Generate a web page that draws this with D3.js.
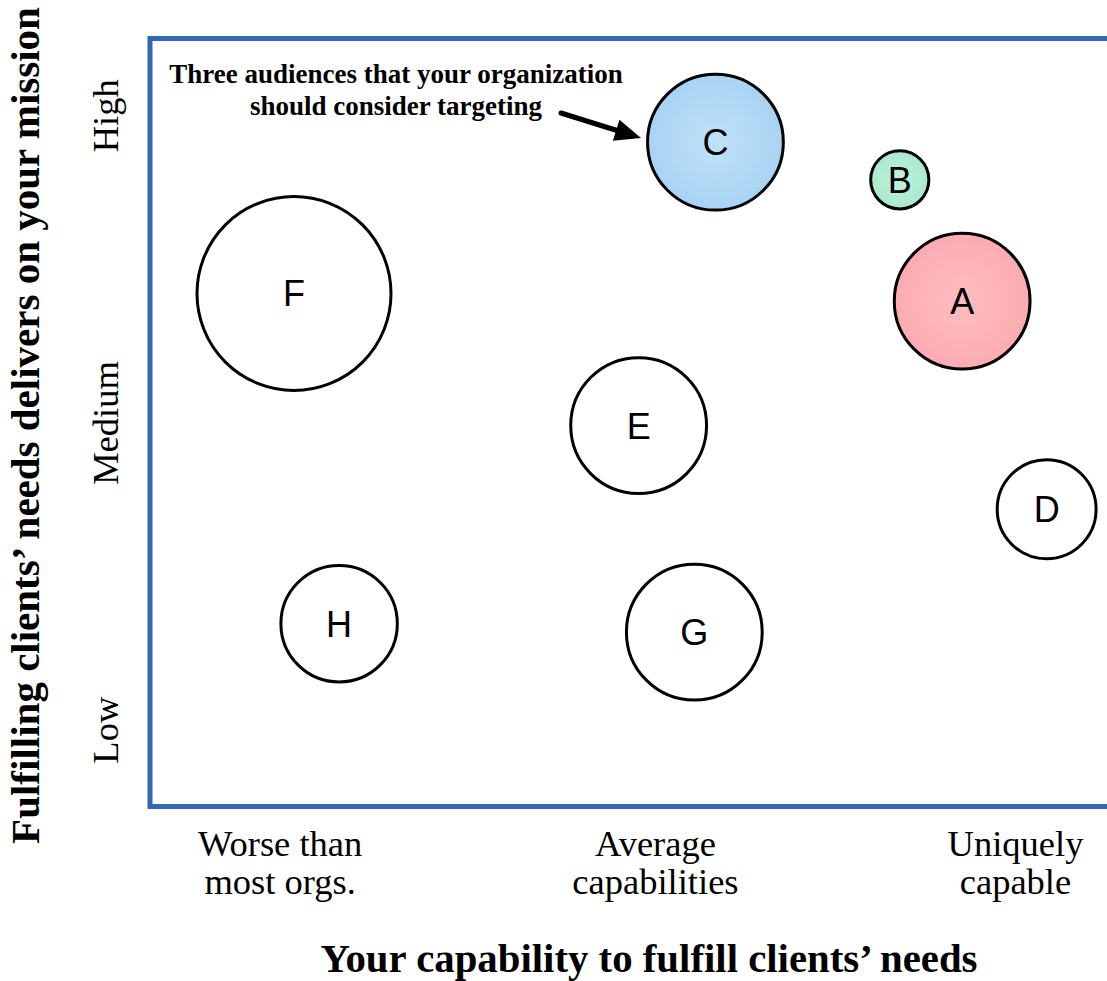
<!DOCTYPE html>
<html><head><meta charset="utf-8">
<script src="https://cdn.jsdelivr.net/npm/d3@7"></script>
<style>body{margin:0;background:#fff;} svg{display:block}</style>
</head><body>
<svg id="chart" width="1107" height="981"></svg>
<script>
// ---- data ----
const audiences    = ["A", "B", "C", "D", "E", "F", "G", "H"];
const capability   = [84.6, 78.1, 58.9, 93.4, 50.9, 15.0, 56.7, 19.7];
const mission      = [65.8, 81.6, 86.5, 38.7, 49.6, 66.8, 22.7, 23.8];
const audienceSize = [49, 9, 49, 26, 49, 100, 49, 36];
const targeted     = ["A", "B", "C"];

const xTickValues = [13.5, 52.6, 90.1];
const xTickLabels = [["Worse than", "most orgs."], ["Average", "capabilities"], ["Uniquely", "capable"]];
const yTickValues = [10, 50, 90];
const yTickLabels = ["Low", "Medium", "High"];

const xTitle = "Your capability to fulfill clients\u2019 needs";
const yTitle = "Fulfilling clients\u2019 needs delivers on your mission";
const note = ["Three audiences that your organization", "should consider targeting"];

// ---- styles ----
const fills = {
  A: ["#ffbdc2", "#fcacb3"],
  B: ["#bdf2dc", "#abe8cf"],
  C: ["#c0e2f9", "#a9d3f3"]
};
const serif = "'Liberation Serif','DejaVu Serif',serif";
const sans = "'Liberation Sans',Arial,sans-serif";

const svg = d3.select("#chart");
const x = d3.scaleLinear([0, 100], [150, 1110]);
const y = d3.scaleLinear([0, 100], [806.5, 38.5]);
const r = d3.scaleSqrt([0, 100], [0, 97]);

const defs = svg.append("defs");
Object.entries(fills).forEach(([k, c]) => {
  const g = defs.append("radialGradient").attr("id", "grad" + k);
  g.append("stop").attr("offset", "0%").attr("stop-color", c[0]);
  g.append("stop").attr("offset", "100%").attr("stop-color", c[1]);
});

// plot frame
svg.append("rect")
  .attr("x", x(0)).attr("y", y(100))
  .attr("width", x(100) - x(0)).attr("height", y(0) - y(100))
  .attr("fill", "none").attr("stroke", "#3566b6").attr("stroke-width", 5);

// bubbles
const data = audiences.map((a, i) => ({name: a, cx: capability[i], cy: mission[i], s: audienceSize[i]}));
const nodes = svg.append("g").selectAll("g").data(data).join("g")
  .attr("transform", d => `translate(${x(d.cx)},${y(d.cy)})`);
nodes.append("circle")
  .attr("r", d => r(d.s))
  .attr("fill", d => targeted.includes(d.name) ? `url(#grad${d.name})` : "#fff")
  .attr("stroke", "#000").attr("stroke-width", 3);
nodes.append("text")
  .attr("text-anchor", "middle").attr("dy", "0.36em")
  .attr("font-family", sans).attr("font-size", 36)
  .text(d => d.name);

// x axis
const xAxis = svg.append("g").attr("transform", `translate(0,${y(0)})`)
  .call(d3.axisBottom(x).tickValues(xTickValues).tickSize(0));
xAxis.select(".domain").remove();
xAxis.selectAll(".tick text").each(function(d, i) {
  const t = d3.select(this).attr("y", 0).attr("dy", null)
    .attr("font-family", serif).attr("font-size", 36.5).attr("fill", "#000").text(null);
  xTickLabels[i].forEach((line, j) => {
    t.append("tspan").attr("x", 0).attr("y", 49 + j * 38).text(line);
  });
});

// y axis
const yAxis = svg.append("g").attr("transform", "translate(118,0)")
  .call(d3.axisLeft(y).tickValues(yTickValues).tickSize(0).tickFormat((d, i) => yTickLabels[i]));
yAxis.select(".domain").remove();
yAxis.selectAll(".tick text")
  .attr("x", 0).attr("y", 0).attr("dy", null)
  .attr("text-anchor", "middle").attr("transform", "rotate(-90)")
  .attr("font-family", serif).attr("font-size", 36.5).attr("fill", "#000");

// axis titles
svg.append("text").attr("x", 649).attr("y", 972).attr("text-anchor", "middle")
  .attr("font-family", serif).attr("font-weight", "bold").attr("font-size", 40.8)
  .text(xTitle);
svg.append("text").attr("transform", "translate(39,425.5) rotate(-90)").attr("text-anchor", "middle")
  .attr("font-family", serif).attr("font-weight", "bold").attr("font-size", 41)
  .text(yTitle);

// annotation
const ann = svg.append("text").attr("text-anchor", "middle")
  .attr("font-family", serif).attr("font-weight", "bold").attr("font-size", 27);
note.forEach((line, j) => ann.append("tspan").attr("x", 396).attr("y", 83 + j * 32).text(line));

// arrow
const x0 = 561, y0 = 113, x1 = 641, y1 = 138;
const ang = Math.atan2(y1 - y0, x1 - x0);
const hl = 26, hw = 11;
const bx = x1 - hl * Math.cos(ang), by = y1 - hl * Math.sin(ang);
svg.append("line").attr("x1", x0).attr("y1", y0).attr("x2", bx).attr("y2", by)
  .attr("stroke", "#000").attr("stroke-width", 5).attr("stroke-linecap", "round");
svg.append("path").attr("fill", "#000")
  .attr("d", `M${x1},${y1}L${bx + hw * Math.sin(ang)},${by - hw * Math.cos(ang)}L${bx - hw * Math.sin(ang)},${by + hw * Math.cos(ang)}Z`);
</script>
</body></html>
